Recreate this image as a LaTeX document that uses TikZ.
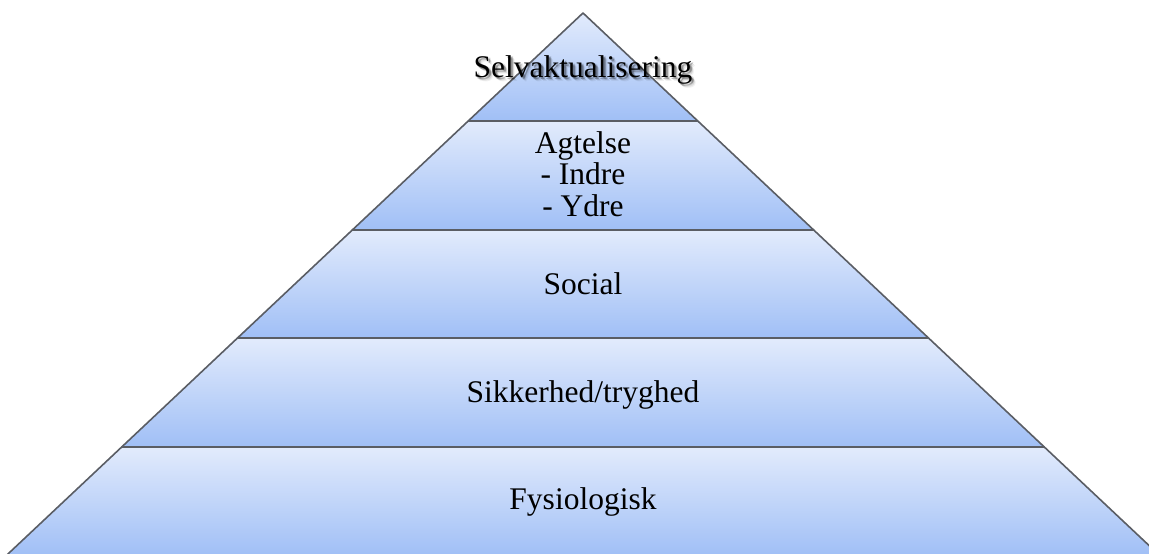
\documentclass[tikz,border=0pt]{standalone}
\usepackage{fontspec}
\setmainfont{Liberation Serif}
\begin{document}
\begin{tikzpicture}[x=1pt,y=-1pt,
  layer/.style={top color=layertop, bottom color=layerbot, draw=edgegray, line width=1.6pt, line join=round},
  lbl/.style={anchor=base, inner sep=0pt, font=\fontsize{31.5}{31.5}\selectfont, align=center},
  shadowlbl/.style={lbl, text=black, opacity=#1}
]
\definecolor{layertop}{RGB}{226,235,252}
\definecolor{layerbot}{RGB}{160,191,246}
\definecolor{edgegray}{RGB}{90,93,100}
\useasboundingbox (0,0) rectangle (1149,554);
\begin{scope}
\clip (0,0) rectangle (1149,554);
% layers (top to bottom)
\shadedraw[layer] (583,13) -- (697.8,121) -- (468.2,121) -- cycle;
\shadedraw[layer] (468.2,121) -- (697.8,121) -- (813.7,230) -- (352.3,230) -- cycle;
\shadedraw[layer] (352.3,230) -- (813.7,230) -- (928.5,338) -- (237.5,338) -- cycle;
\shadedraw[layer] (237.5,338) -- (928.5,338) -- (1044.3,447) -- (121.7,447) -- cycle;
\shadedraw[layer] (121.7,447) -- (1044.3,447) -- (1160.2,556) -- (5.8,556) -- cycle;
\end{scope}
% shadow of top label
\foreach \dx/\dy/\op in {2/2/0.18,3/3/0.12,2.5/1.5/0.12,1.5/2.5/0.12,4/4/0.06}{
  \node[shadowlbl=\op] at (583+\dx,77+\dy) {Selvaktualisering};
}
\node[lbl] (selv) at (583,77) {Selvaktualisering};
\node[lbl] (agt) at (583,216) {Agtelse\\- Indre\\- Ydre};
\node[lbl] (soc) at (583,294) {Social};
\node[lbl] (sik) at (583,402) {Sikkerhed/tryghed};
\node[lbl] (fys) at (583,509) {Fysiologisk};
\end{tikzpicture}
\end{document}
